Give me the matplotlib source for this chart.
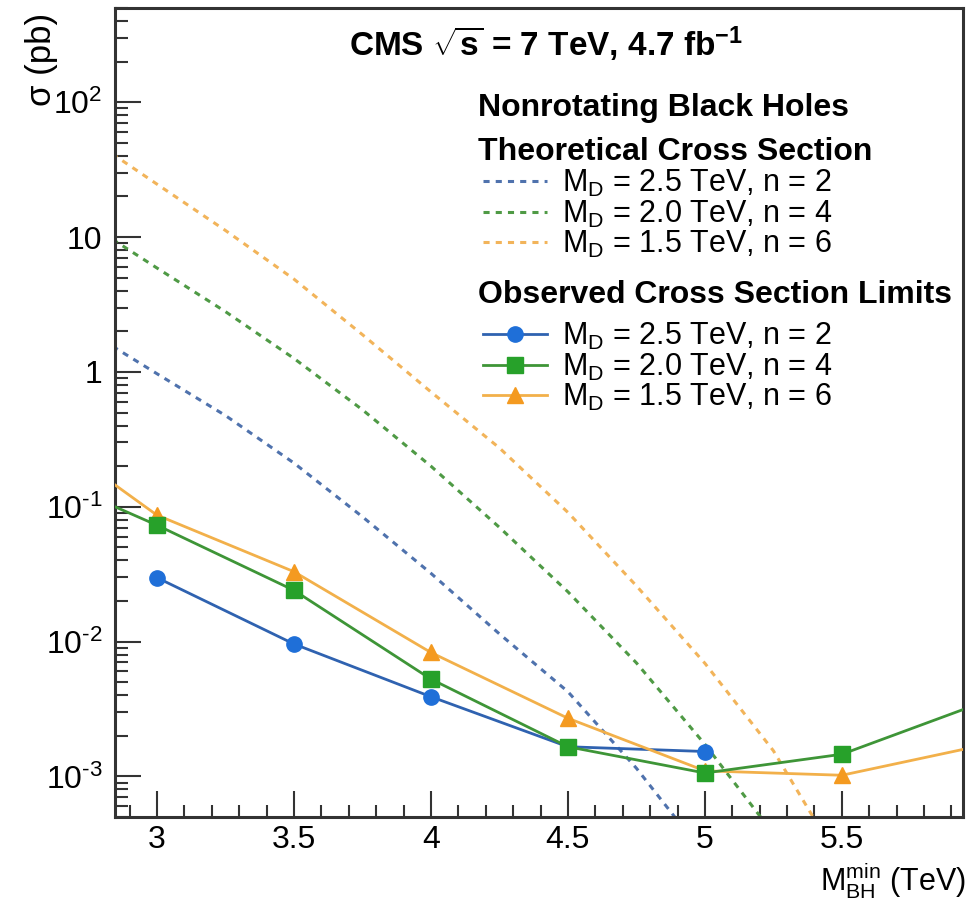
import matplotlib
matplotlib.use("Agg")
import matplotlib.pyplot as plt
from matplotlib.ticker import FixedLocator, FixedFormatter, LogLocator, MultipleLocator, NullFormatter

plt.rcParams["font.family"] = ["Liberation Sans", "DejaVu Sans"]
plt.rcParams["mathtext.fontset"] = "custom"
plt.rcParams["mathtext.rm"] = "Liberation Sans"
plt.rcParams["mathtext.it"] = "Liberation Sans:italic"
plt.rcParams["mathtext.bf"] = "Liberation Sans:bold"
plt.rcParams["mathtext.default"] = "regular"

# theoretical cross sections (pb) vs M_BH^min (TeV)
theory_x = [2.8, 3.0, 3.25, 3.5, 3.75, 4.0, 4.25, 4.5, 4.75, 5.0, 5.25, 5.5]
theory_n2 = [1.73, 0.97, 0.475, 0.211, 0.0843, 0.0321, 0.0114, 0.00425, 0.00115, 0.00026, None, None]
theory_n4 = [10.8, 5.9, 2.8, 1.26, 0.524, 0.200, 0.0703, 0.0234, 0.00695, 0.00173, 0.000376, None]
theory_n6 = [46.6, 24.7, 11.2, 4.88, 1.89, 0.711, 0.273, 0.0908, 0.0259, 0.0069, 0.00155, 0.00022]

# observed cross section limits (pb)
obs_x_n2 = [3.0, 3.5, 4.0, 4.5, 5.0]
obs_n2 = [0.0298, 0.0096, 0.0039, 0.00166, 0.00153]
obs_x = [2.5, 3.0, 3.5, 4.0, 4.5, 5.0, 5.5, 6.0]
obs_n4 = [0.204, 0.073, 0.024, 0.00527, 0.00166, 0.00106, 0.00146, 0.00346]
obs_n6 = [0.468, 0.0867, 0.033, 0.0083, 0.0027, 0.0011, 0.00102, 0.00168]

labels = [r"M$_\mathrm{D}$ = 2.5 TeV, n = 2",
          r"M$_\mathrm{D}$ = 2.0 TeV, n = 4",
          r"M$_\mathrm{D}$ = 1.5 TeV, n = 6"]

W, H = 970, 913
fig = plt.figure(figsize=(W / 100, H / 100), dpi=100)
ax = fig.add_axes([115 / W, 1 - 817 / H, (963 - 115) / W, (817 - 8) / H])


def clean(xs, ys):
    pts = [(a, b) for a, b in zip(xs, ys) if b is not None]
    return [p[0] for p in pts], [p[1] for p in pts]


th_cols = ["#4f72ad", "#4f9a45", "#f2b45a"]
th_handles = []
for ys, c, lab in zip([theory_n2, theory_n4, theory_n6], th_cols, labels):
    xs, yv = clean(theory_x, ys)
    h, = ax.plot(xs, yv, color=c, lw=2.2, dashes=(2, 2), label=lab, zorder=2)
    th_handles.append(h)

h1, = ax.plot(obs_x_n2, obs_n2, color="#2f62b0", lw=2.0, marker="o", ms=11,
              mfc="#1f6fd8", mec="#1f6fd8", label=labels[0], zorder=3)
h3, = ax.plot(obs_x, obs_n6, color="#f2b04a", lw=2.0, marker="^", ms=12,
              mfc="#f49a20", mec="#f49a20", label=labels[2], zorder=3)
h2, = ax.plot(obs_x, obs_n4, color="#3e9537", lw=2.0, marker="s", ms=11,
              mfc="#27a12a", mec="#27a12a", label=labels[1], zorder=4)
ob_handles = [h1, h2, h3]

ax.set_yscale("log")
ax.set_xlim(2.847, 5.942)
ax.set_ylim(5e-4, 5e2)

yt = [1e-3, 1e-2, 1e-1, 1, 10, 100]
ax.yaxis.set_major_locator(FixedLocator(yt))
ax.yaxis.set_major_formatter(FixedFormatter([r"$10^{\text{-}3}$", r"$10^{\text{-}2}$", r"$10^{\text{-}1}$",
                                             "1", "10", r"$10^{2}$"]))
ax.yaxis.set_minor_locator(LogLocator(base=10, subs=range(2, 10), numticks=20))
ax.yaxis.set_minor_formatter(NullFormatter())

ax.xaxis.set_major_locator(FixedLocator([3, 3.5, 4, 4.5, 5, 5.5]))
ax.xaxis.set_major_formatter(FixedFormatter(["3", "3.5", "4", "4.5", "5", "5.5"]))
ax.xaxis.set_minor_locator(MultipleLocator(0.1))

ax.tick_params(which="both", direction="in", width=1.5, colors="#333333", labelcolor="black")
ax.tick_params(which="major", length=19, labelsize=23)
ax.tick_params(which="minor", length=9)
ax.tick_params(axis="y", which="major", pad=9)
ax.tick_params(axis="x", which="major", pad=6)
for s in ax.spines.values():
    s.set_linewidth(2.2)
    s.set_color("#333333")

ax.set_ylabel("σ (pb)", fontsize=25, loc="top")
ax.yaxis.set_label_coords(-0.067, 0.994)
ax.set_xlabel(r"M$_\mathrm{BH}^\mathrm{min}$ (TeV)", fontsize=22, loc="right")
ax.xaxis.set_label_coords(1.003, -0.054)

fig.text(546 / W, 1 - 44 / H, r"CMS $\sqrt{\mathbf{s}}$ = 7 TeV, 4.7 fb$^{\mathbf{-1}}$",
         fontsize=24, fontweight="bold", ha="center", va="center")

fig.text(478 / W, 1 - 108 / H, "Nonrotating Black Holes", fontsize=23, fontweight="bold", va="center")
fig.text(478 / W, 1 - 152 / H, "Theoretical Cross Section", fontsize=23, fontweight="bold", va="center")
fig.text(478 / W, 1 - 295 / H, "Observed Cross Section Limits", fontsize=23, fontweight="bold", va="center")

leg_kw = dict(frameon=False, fontsize=22, loc="center left", borderpad=0, borderaxespad=0,
              handlelength=2.1, handletextpad=0.5, labelspacing=-0.02)
leg1 = fig.legend(handles=th_handles, bbox_to_anchor=(483 / W, 1 - 214 / H), **leg_kw)
leg2 = fig.legend(handles=ob_handles, bbox_to_anchor=(483 / W, 1 - 367 / H), **leg_kw)

fig.savefig("out.png", dpi=100)
